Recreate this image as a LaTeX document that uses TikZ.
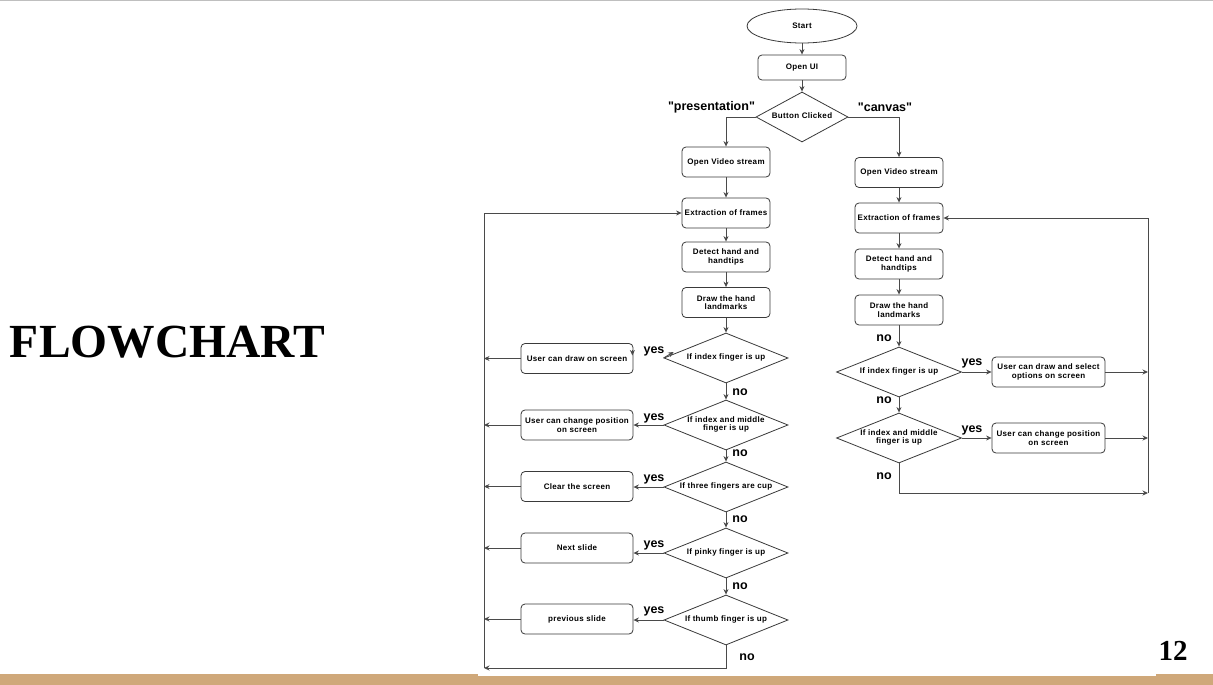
\documentclass[tikz,border=0pt]{standalone}
\usepackage{fontspec}
\setmainfont{Liberation Serif}
\newfontfamily\uifont[LetterSpace=4]{Liberation Sans}
\newfontfamily\lblfont{Liberation Sans}
\usetikzlibrary{shapes.geometric,arrows.meta}
\definecolor{tanbar}{HTML}{CFA87A}
\definecolor{edgec}{HTML}{4A4A4A}
\definecolor{bordc}{HTML}{3A3A3A}
\newcommand\dtxt[1]{\makebox[0pt]{\raisebox{-0.25em}[0pt][0pt]{\begin{tabular}{@{}c@{}}#1\end{tabular}}}}
\tikzset{
  uitext/.style={font=\uifont\bfseries\fontsize{8}{8.5}\selectfont},
  pbox/.style={draw=bordc, line width=0.8pt, rounded corners=4pt, minimum width=88pt, minimum height=30pt, inner sep=1pt, align=center, uitext},
  wbox/.style={pbox, minimum width=112pt},
  dia/.style={draw=bordc, line width=0.8pt, diamond, minimum width=124pt, minimum height=50pt, inner sep=0pt, uitext},
  arr/.style={draw=edgec, line width=0.9pt, -{Stealth[length=5.5pt,width=5pt]}},
  lbl/.style={font=\lblfont\bfseries\fontsize{12.5}{14}\selectfont, inner sep=0pt},
}
\begin{document}
\begin{tikzpicture}[x=1pt,y=-1pt]
\useasboundingbox (0,0) rectangle (1213,685);
\fill[white] (0,0) rectangle (1213,685);
\draw[black!25, line width=1.4pt] (0,0.8) -- (1213,0.8);
\fill[tanbar] (0,674) rectangle (1213,685);
\fill[white] (478,674) rectangle (1156,676);

% titles
\node[font=\bfseries\fontsize{47.5}{50}\selectfont, inner sep=0pt] (title) at (167.5,342) {FLOWCHART};
\node[font=\bfseries\fontsize{29}{32}\selectfont, inner sep=0pt] (pg) at (1173,651) {12};

% top
\node[ellipse, draw=bordc, line width=0.8pt, minimum width=110pt, minimum height=34pt, inner sep=0pt, uitext] (start) at (802,26) {Start};
\node[pbox, minimum height=25pt] (ui) at (802,67.5) {Open UI};
\node[dia, minimum width=92pt, minimum height=50pt] (bc) at (802,117) {\dtxt{Button Clicked}};

% left column
\node[pbox] (lov) at (726,162) {Open Video stream};
\node[pbox] (lex) at (726,213) {Extraction of frames};
\node[pbox] (ldet) at (726,257) {Detect hand and\\handtips};
\node[pbox] (ldraw) at (726,302.5) {Draw the hand\\landmarks};
\node[dia] (ld1) at (726,358) {\dtxt{If index finger is up}};
\node[dia] (ld2) at (726,425) {\dtxt{If index and middle\\finger is up}};
\node[dia] (ld3) at (726,487) {\dtxt{If three fingers are cup}};
\node[dia] (ld4) at (726,553) {\dtxt{If pinky finger is up}};
\node[dia] (ld5) at (726,620) {\dtxt{If thumb finger is up}};

\node[wbox] (lb1) at (577,358.5) {User can draw on screen};
\node[wbox] (lb2) at (577,425) {User can change position\\on screen};
\node[wbox] (lb3) at (577,486.5) {Clear the screen};
\node[wbox] (lb4) at (577,548) {Next slide};
\node[wbox] (lb5) at (577,619) {previous slide};

% right column
\node[pbox] (rov) at (899,172.5) {Open Video stream};
\node[pbox] (rex) at (899,218) {Extraction of frames};
\node[pbox] (rdet) at (899,264) {Detect hand and\\handtips};
\node[pbox] (rdraw) at (899,310) {Draw the hand\\landmarks};
\node[dia, minimum width=125pt] (rd1) at (899,372) {\dtxt{If index finger is up}};
\node[dia, minimum width=125pt] (rd2) at (899,438) {\dtxt{If index and middle\\finger is up}};
\node[wbox, minimum width=113pt] (rb1) at (1048.5,372) {User can draw and select\\options on screen};
\node[wbox, minimum width=113pt] (rb2) at (1048.5,438) {User can change position\\on screen};

\coordinate (lbot) at (484,668);
\coordinate (ltop) at (484,213);
\coordinate (rbot) at (1148,493);
\coordinate (rtop) at (1148,218);

% top edges
\draw[arr] (start) -- (ui);
\draw[arr] (ui) -- (bc);
\draw[arr] (bc.west) -| (lov.north);
\draw[arr] (bc.east) -| (rov.north);

% left chain
\draw[arr] (lov) -- (lex);
\draw[arr] (lex) -- (ldet);
\draw[arr] (ldet) -- (ldraw);
\draw[arr] (ldraw) -- (ld1);
\draw[arr] (ld1) -- (ld2);
\draw[arr] (ld2) -- (ld3);
\draw[arr] (ld3) -- (ld4);
\draw[arr] (ld4) -- (ld5);

\draw[arr] (ld1.west) -- ++(10,-6);
\draw[arr] ([xshift=-1pt,yshift=9pt]lb1.east) -- ([xshift=-1pt,yshift=3pt]lb1.east);
\draw[arr] (ld2.west) -- (ld2.west -| lb2.east);
\draw[arr] (ld3.west) -- (ld3.west -| lb3.east);
\draw[arr] (ld4.west) -- (ld4.west -| lb4.east);
\draw[arr] (ld5.west) -- (ld5.west -| lb5.east);

\draw[arr] (lb1.west) -- (lb1.west -| ltop);
\draw[arr] (lb2.west) -- (lb2.west -| ltop);
\draw[arr] (lb3.west) -- (lb3.west -| ltop);
\draw[arr] (lb4.west) -- (lb4.west -| ltop);
\draw[arr] (lb5.west) -- (lb5.west -| ltop);
\draw[arr] (ld5.south) |- (lbot);
\draw[arr] (lbot) -- (ltop) -- (lex.west);

% right chain
\draw[arr] (rov) -- (rex);
\draw[arr] (rex) -- (rdet);
\draw[arr] (rdet) -- (rdraw);
\draw[arr] (rdraw) -- (rd1);
\draw[arr] (rd1) -- (rd2);
\draw[arr] (rd1.east) -- (rb1.west);
\draw[arr] (rd2.east) -- (rb2.west);
\draw[arr] (rb1.east) -- (rb1.east -| rtop);
\draw[arr] (rb2.east) -- (rb2.east -| rtop);
\draw[arr] (rd2.south) |- (rbot);
\draw[arr] (rbot) -- (rtop) -- (rex.east);

% labels
\node[lbl] (lpres) at (711.5,107) {"presentation"};
\node[lbl] (lcanv) at (885,107) {"canvas"};
\node[lbl] (ly1) at (654,351) {yes};
\node[lbl] (ly2) at (654,418) {yes};
\node[lbl] (ly3) at (654,479) {yes};
\node[lbl] (ly4) at (654,545) {yes};
\node[lbl] (ly5) at (654,611) {yes};
\node[lbl] (ln1) at (740,392) {no};
\node[lbl] (ln2) at (740,453) {no};
\node[lbl] (ln3) at (740,519) {no};
\node[lbl] (ln4) at (740,586) {no};
\node[lbl] (ln5) at (747,657) {no};
\node[lbl] (ry1) at (972,363) {yes};
\node[lbl] (ry2) at (972,430) {yes};
\node[lbl] (rn1) at (884,338) {no};
\node[lbl] (rn2) at (884,400) {no};
\node[lbl] (rn3) at (884,476) {no};
\end{tikzpicture}
\end{document}
